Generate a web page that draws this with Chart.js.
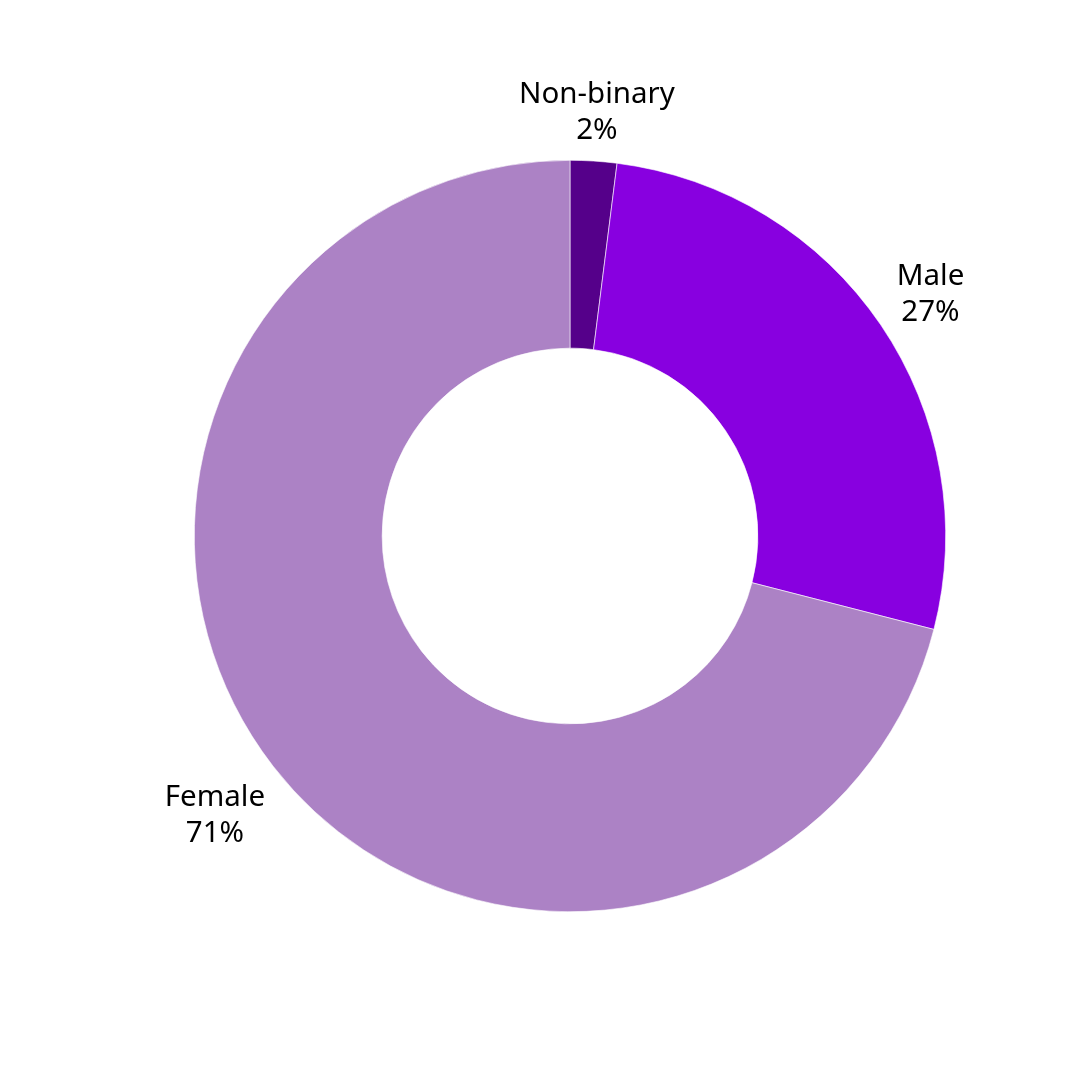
<!DOCTYPE html>
<html>
<head>
<meta charset="utf-8">
<script src="https://cdn.jsdelivr.net/npm/chart.js@4"></script>
<style>
  html, body { margin: 0; padding: 0; background: #fff; }
  #wrap { width: 1080px; height: 1080px; }
</style>
</head>
<body>
<div id="wrap"><canvas id="myChart" width="1080" height="1080"></canvas></div>
<script>
const labels = ['Non-binary', 'Male', 'Female'];
const values = [2, 27, 71];
const colors = ['#55008a', '#8800e0', '#ac82c5'];

// draws "Label\nNN%" outside each arc, pushed out by the text box size
const outerLabels = {
  id: 'outerLabels',
  afterDatasetsDraw(chart) {
    const ctx = chart.ctx;
    const meta = chart.getDatasetMeta(0);
    const lineH = 36;
    ctx.save();
    ctx.font = '29.5px "Noto Sans", sans-serif';
    ctx.fillStyle = '#000';
    ctx.textAlign = 'center';
    ctx.textBaseline = 'middle';
    meta.data.forEach((arc, i) => {
      const p = arc.getProps(['x', 'y', 'startAngle', 'endAngle', 'outerRadius'], true);
      const mid = (p.startAngle + p.endAngle) / 2;
      const lines = [labels[i], values[i] + '%'];
      const halfW = Math.max(...lines.map(t => ctx.measureText(t).width)) / 2;
      const halfH = lineH * lines.length / 2;
      const r = p.outerRadius + 12 + halfW * Math.abs(Math.cos(mid)) + halfH * Math.abs(Math.sin(mid));
      const cx = p.x + Math.cos(mid) * r;
      const cy = p.y + Math.sin(mid) * r + 4;
      lines.forEach((t, j) => {
        ctx.fillText(t, cx, cy - halfH + lineH * (j + 0.5));
      });
    });
    ctx.restore();
  }
};

const ctx = document.getElementById('myChart').getContext('2d');
const myChart = new Chart(ctx, {
  type: 'doughnut',
  data: {
    labels: labels,
    datasets: [{
      data: values,
      backgroundColor: colors,
      borderColor: '#ffffff',
      borderWidth: 0.6
    }]
  },
  options: {
    responsive: false,
    animation: false,
    cutout: '50%',
    layout: { padding: { left: 194, right: 134, top: 160, bottom: 168 } },
    plugins: {
      legend: { display: false },
      tooltip: { enabled: false }
    }
  },
  plugins: [outerLabels]
});
</script>
</body>
</html>
